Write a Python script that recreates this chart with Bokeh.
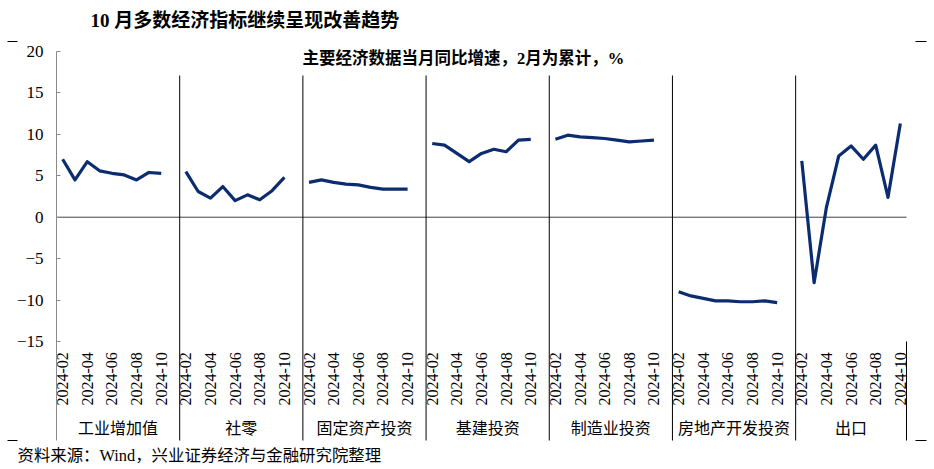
import math
from bokeh.plotting import figure
from bokeh.models import Range1d, FixedTicker, Label
from bokeh.core.properties import value
from bokeh.embed import file_html
from bokeh.resources import INLINE

# ---- data ----
months = ["2024-02", "2024-03", "2024-04", "2024-05", "2024-06",
          "2024-07", "2024-08", "2024-09", "2024-10"]
groups = ["工业增加值", "社零", "固定资产投资", "基建投资", "制造业投资", "房地产开发投资", "出口"]
industrial = [7.0, 4.5, 6.7, 5.6, 5.3, 5.1, 4.5, 5.4, 5.3]
retail = [5.5, 3.1, 2.3, 3.7, 2.0, 2.7, 2.1, 3.2, 4.8]
fixed_inv = [4.2, 4.5, 4.2, 4.0, 3.9, 3.6, 3.4, 3.4, 3.4]
infra = [8.9, 8.7, 7.7, 6.7, 7.7, 8.2, 7.9, 9.3, 9.4]
manufacturing = [9.4, 9.9, 9.7, 9.6, 9.5, 9.3, 9.1, 9.2, 9.3]
real_estate = [-9.0, -9.5, -9.8, -10.1, -10.1, -10.2, -10.2, -10.1, -10.3]
exports = [6.8, -7.9, 1.2, 7.4, 8.6, 7.0, 8.7, 2.4, 11.3]
series = [industrial, retail, fixed_inv, infra, manufacturing, real_estate, exports]
y_ticks = [-15, -10, -5, 0, 5, 10, 15, 20]
tick_months = ["2024-02", "2024-04", "2024-06", "2024-08", "2024-10"]

title_text = "10 月多数经济指标继续呈现改善趋势"
subtitle_text = "主要经济数据当月同比增速，2月为累计，%"
source_text = "资料来源：Wind，兴业证券经济与金融研究院整理"

SERIF = "Liberation Serif, Noto Sans CJK SC"
LINE_COLOR = "#0B2C6E"
SLOTS = 10  # 9 months + 1 gap per group
n_slots = SLOTS * (len(groups) - 1) + len(months)  # 69

W, H = 934, 469
# layout: plot area spans px 56..906 horizontally, value 20 at py 51, -15 at py 341
PX_X = 850.0 / n_slots
PX_Y = 290.0 / 35.0


def dx(px):
    return (px - 56) / PX_X


def dy(py):
    return 20 - (py - 51) / PX_Y


Y_BOTTOM = dy(440)

p = figure(width=W, height=H, output_backend="svg", toolbar_location=None,
           x_axis_type=None,
           x_range=Range1d(dx(0), dx(W)), y_range=Range1d(dy(H), dy(0)),
           min_border_left=0, min_border_right=0, min_border_top=0, min_border_bottom=0)
p.outline_line_color = None
p.xgrid.visible = False
p.ygrid.visible = False
p.background_fill_color = "white"
p.border_fill_color = "white"

yax = p.yaxis[0]
yax.fixed_location = 0
yax.ticker = FixedTicker(ticks=y_ticks)
yax.bounds = (Y_BOTTOM, 20)
yax.axis_line_color = "#8a8a8a"
yax.major_tick_line_color = "#8a8a8a"
yax.major_tick_in = 4
yax.major_tick_out = 0
yax.minor_tick_line_color = None
yax.major_label_text_font = "Liberation Serif"
yax.major_label_text_font_size = "17px"
yax.major_label_text_color = "black"
yax.major_label_standoff = 13

# zero line
p.segment(x0=[0], y0=[0], x1=[n_slots], y1=[0], line_color="#404040", line_width=1)

# group separators
bounds = [SLOTS * g for g in range(1, len(groups))]
p.segment(x0=bounds, y0=[dy(75)] * len(bounds), x1=bounds, y1=[Y_BOTTOM] * len(bounds),
          line_color="black", line_width=1)
p.segment(x0=[n_slots], y0=[-15], x1=[n_slots], y1=[Y_BOTTOM], line_color="black", line_width=1)

# lines
for g, vals in enumerate(series):
    xs = [SLOTS * g + m + 0.5 for m in range(len(vals))]
    p.line(xs, vals, line_color=LINE_COLOR, line_width=3.2, line_join="round")

# month tick labels
tx, tt = [], []
for g in range(len(groups)):
    for m, mo in enumerate(months):
        if mo in tick_months:
            tx.append(SLOTS * g + m + 0.5)
            tt.append(mo)
p.text(x=tx, y=[dy(405)] * len(tx), text=tt, angle=math.pi / 2,
       text_align="left", text_baseline="middle",
       text_font=value("Liberation Serif"), text_font_size="16px", text_color="black")

# group labels
gx = []
for g in range(len(groups)):
    left = SLOTS * g
    right = min(SLOTS * (g + 1), n_slots)
    gx.append((left + right) / 2)
p.text(x=gx, y=[dy(428)] * len(gx), text=groups, text_align="center", text_baseline="middle",
       text_font=value(SERIF), text_font_size="16px", text_color="black")

# title / subtitle / source
p.add_layout(Label(x=dx(90), y=dy(20), text=title_text, text_font=SERIF, text_font_size="19px",
                   text_font_style="bold", text_baseline="middle", text_align="left",
                   text_color="black"))
p.add_layout(Label(x=dx(302), y=dy(58), text=subtitle_text, text_font=SERIF,
                   text_font_size="16.5px", text_font_style="bold", text_baseline="middle",
                   text_align="left", text_color="black"))
p.add_layout(Label(x=dx(17), y=dy(455), text=source_text, text_font=SERIF,
                   text_font_size="16.4px", text_baseline="middle", text_align="left",
                   text_color="black"))

# corner marks
for (a, b, yy) in [(7, 17, 41), (915, 926, 41), (7, 17, 440), (915, 926, 440)]:
    p.segment(x0=[dx(a)], y0=[dy(yy)], x1=[dx(b)], y1=[dy(yy)], line_color="black", line_width=1)

open("out.html", "w").write(file_html(p, INLINE))
